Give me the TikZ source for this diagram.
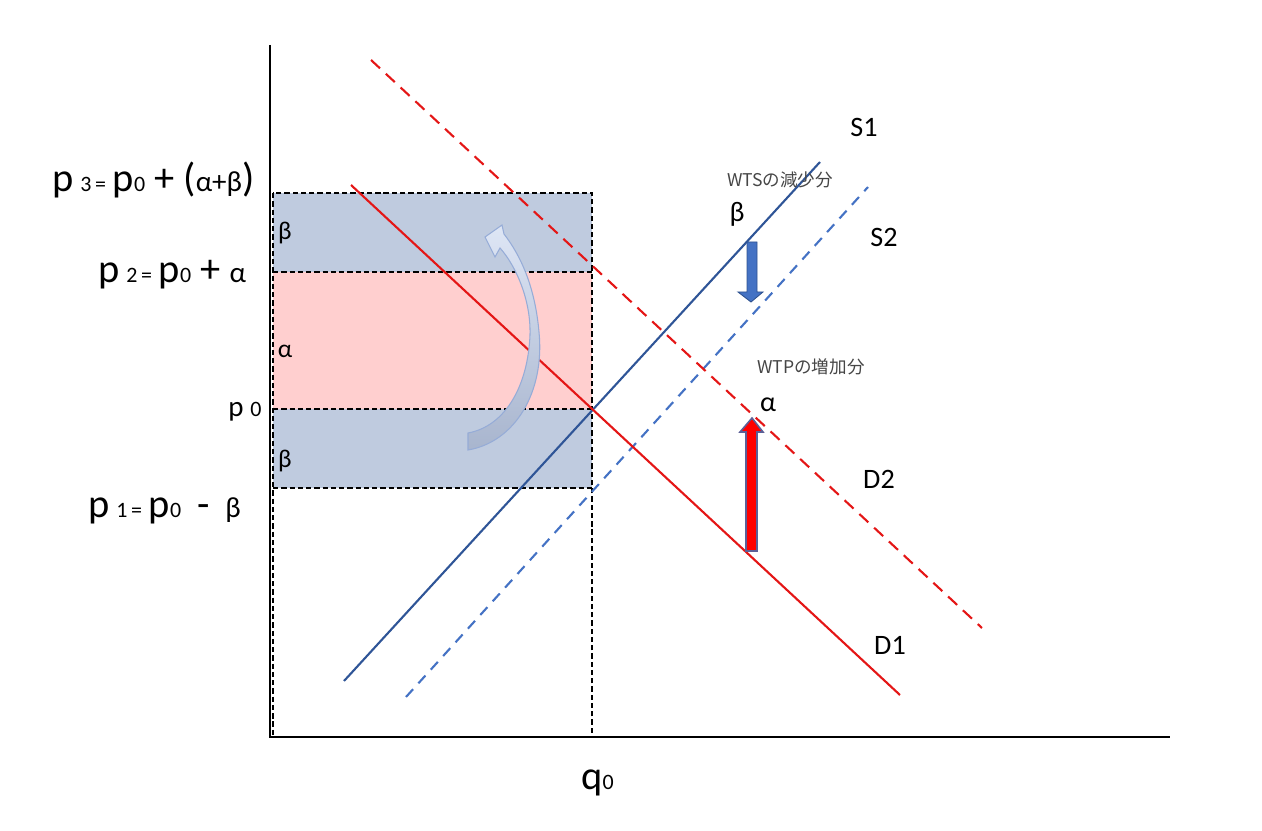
\documentclass[tikz,border=0pt]{standalone}
\usepackage{fontspec}
\setmainfont{Carlito}
\newfontfamily\jpfont{Noto Sans CJK JP}
\definecolor{bandblue}{RGB}{191,203,223}
\definecolor{bandpink}{RGB}{255,207,207}
\definecolor{lineblue}{RGB}{47,85,151}
\definecolor{dashblue}{RGB}{68,114,196}
\definecolor{linered}{RGB}{228,22,22}
\definecolor{arrowblue}{RGB}{68,114,196}
\definecolor{arrowblueedge}{RGB}{47,82,143}
\definecolor{arrowrededge}{RGB}{91,95,151}
\definecolor{curvetop}{RGB}{222,230,245}
\definecolor{curvebot}{RGB}{168,181,206}
\definecolor{curveedge}{RGB}{150,172,215}
\definecolor{jpgray}{RGB}{70,70,70}
\newcommand{\bigp}[1]{{\fontsize{23}{26}\selectfont #1}}
\newcommand{\smallp}[1]{{\fontsize{12.5}{14}\selectfont #1}}
\newcommand{\midp}[1]{{\fontsize{16.5}{19}\selectfont #1}}
\tikzset{
  axisline/.style={black, line width=0.6pt},
  boxdash/.style={black, line width=1pt, dash pattern=on 3pt off 1.7pt},
  supply/.style={lineblue, line width=1.2pt},
  supplyshift/.style={dashblue, line width=1.2pt, dash pattern=on 6pt off 4.5pt},
  demand/.style={linered, line width=1.2pt},
  demandshift/.style={linered, line width=1.2pt, dash pattern=on 7pt off 4.5pt},
  pricelab/.style={inner sep=0pt, font=\fontsize{23}{26}\selectfont},
  bandlab/.style={inner sep=0pt, font=\fontsize{14.5}{17}\selectfont},
  curvelab/.style={inner sep=0pt, font=\fontsize{16}{19}\selectfont},
  jplab/.style={inner sep=0pt, text=jpgray, font=\jpfont\fontsize{10}{12}\selectfont},
}
\begin{document}
\begin{tikzpicture}[x=0.02cm,y=-0.02cm]
\useasboundingbox (0,0) rectangle (1262,831);

% bands
\fill[bandblue] (273,193) rectangle (592,272);
\fill[bandpink] (273,272) rectangle (592,409);
\fill[bandblue] (273,409) rectangle (592,488);

% dashed box
\draw[boxdash] (273,193) rectangle (592,737);
\draw[boxdash] (273,272) -- (592,272);
\draw[boxdash] (273,409) -- (592,409);
\draw[boxdash] (273,488) -- (592,488);

% axes
\coordinate (origin) at (270,737);
\coordinate (ytop) at (270,45);
\coordinate (xend) at (1170,737);
\draw[axisline] (ytop) -- (270,738);
\draw[axisline] (origin) -- (xend);

% curves
\coordinate (s1a) at (344,681); \coordinate (s1b) at (820,162);
\coordinate (s2a) at (406,697); \coordinate (s2b) at (868,187);
\coordinate (d1a) at (351,185); \coordinate (d1b) at (900,695);
\coordinate (d2a) at (371,60);  \coordinate (d2b) at (982,628);
\draw[supplyshift] (s2a) -- (s2b);
\draw[demandshift] (d2a) -- (d2b);
\draw[supply] (s1a) -- (s1b);
\draw[demand] (d1a) -- (d1b);

% curved arrow
\shade[top color=curvetop, bottom color=curvebot, draw=curveedge, line width=0.6pt]
  (468,450) .. controls (515,442) and (545,392) .. (539,332)
  .. controls (535,287) and (521,256) .. (504,234)
  -- (502,225) -- (485,237) -- (495,257) -- (500,248)
  .. controls (516,266) and (531,300) .. (530,335)
  .. controls (528,385) and (506,426) .. (468,433) -- cycle;

% blue block arrow (down)
\draw[fill=arrowblue, draw=arrowblueedge, line width=0.5pt]
  (747,242) -- (757,242) -- (757,292) -- (763,292) -- (751,302)
  -- (738,292) -- (747,292) -- cycle;

% red block arrow (up)
\draw[fill=red, draw=arrowrededge, line width=0.9pt]
  (746,551) -- (757,551) -- (757,432) -- (763,432) -- (752,418)
  -- (740,432) -- (746,432) -- cycle;

% price labels
\node[pricelab, anchor=base west] (p3) at (52,192)
  {\bigp{p}\,\smallp{3\,=}\,\bigp{p}\smallp{0} + (\midp{α+β})};
\node[pricelab, anchor=base west] (p2) at (98,283)
  {\bigp{p}\,\smallp{2\,=}\,\bigp{p}\smallp{0} + \midp{α}};
\node[pricelab, anchor=base west] (p0) at (228,417)
  {\midp{p}\,\smallp{0}};
\node[pricelab, anchor=base west] (p1) at (88,517)
  {\bigp{p}\,\smallp{1\,=}\,\bigp{p}\smallp{0} \,-\, \midp{β}};
\node[pricelab, anchor=base west] (q0) at (581,789)
  {\bigp{q}\smallp{0}};

% band labels
\node[bandlab] (b1) at (285,233) {β};
\node[bandlab] (a1) at (285,351) {α};
\node[bandlab] (b2) at (285,461) {β};

% curve labels
\node[curvelab] (S1) at (864,127) {S1};
\node[curvelab] (S2) at (884,237) {S2};
\node[curvelab] (D2) at (879,479) {D2};
\node[curvelab] (D1) at (890,645) {D1};

% annotations
\node[jplab] (wts) at (780,180) {WTSの減少分};
\node[curvelab] (beta) at (737,214) {β};
\node[jplab] (wtp) at (811,367) {WTPの増加分};
\node[curvelab] (alpha) at (768,405) {α};
\end{tikzpicture}
\end{document}
